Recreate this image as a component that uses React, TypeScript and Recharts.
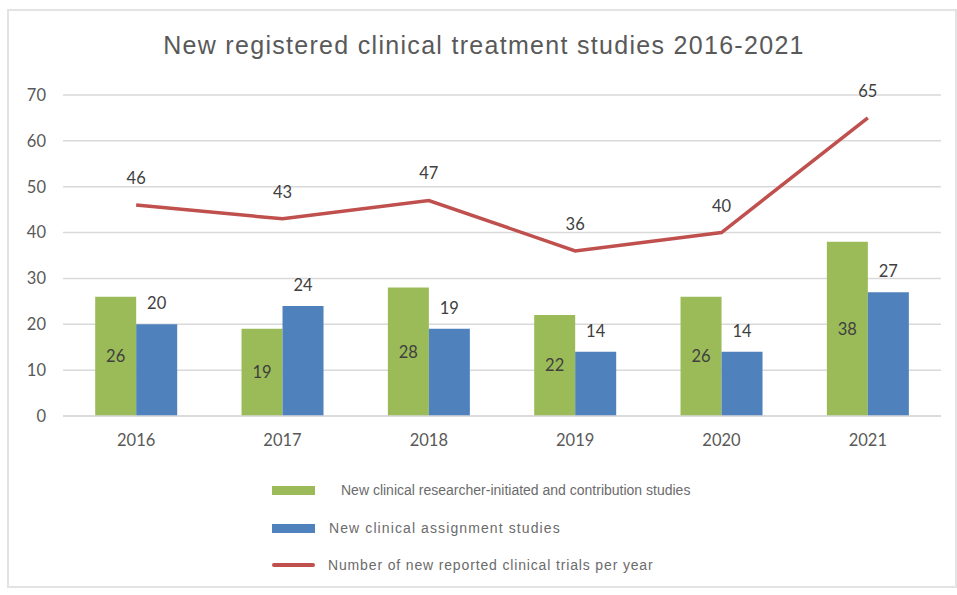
import React from "react";
import {
  ComposedChart,
  Bar,
  Line,
  XAxis,
  YAxis,
  CartesianGrid,
  LabelList,
} from "recharts";

const years = ["2016", "2017", "2018", "2019", "2020", "2021"];
const researcherStudies = [26, 19, 28, 22, 26, 38];
const assignmentStudies = [20, 24, 19, 14, 14, 27];
const reportedTrials = [46, 43, 47, 36, 40, 65];
const yTicks = [0, 10, 20, 30, 40, 50, 60, 70];

const seriesNames = {
  researcher: "New clinical researcher-initiated and contribution studies",
  assignment: "New clinical assignment studies",
  trials: "Number of new reported clinical trials per year",
};

const data = years.map((y, i) => ({
  year: y,
  researcher: researcherStudies[i],
  assignment: assignmentStudies[i],
  trials: reportedTrials[i],
}));

const GREEN = "#9bbb59";
const BLUE = "#4f81bd";
const RED = "#c0504d";
const TXT = "#404040";
const AXIS_TXT = "#595959";
const NUM_FONT = "Lato, 'Open Sans', sans-serif";

const LegendBlock = () => {
  const items = [
    { name: seriesNames.researcher, color: GREEN, type: "rect", textX: 341, ls: 0 },
    { name: seriesNames.assignment, color: BLUE, type: "rect", textX: 329, ls: 1.1 },
    { name: seriesNames.trials, color: RED, type: "line", textX: 328, ls: 0.85 },
  ];
  return (
    <div style={{ position: "absolute", left: 272, top: 482, width: 500, height: 110 }}>
      {items.map((it, i) => (
        <div
          key={i}
          style={{
            position: "absolute",
            left: 0,
            top: i * 37.5,
            height: 16,
            width: 500,
          }}
        >
          <div
            style={{
              position: "absolute",
              left: 0,
              top: it.type === "rect" ? 4 : 6,
              width: 43,
              height: it.type === "rect" ? 9 : 4,
              background: it.color,
              borderRadius: it.type === "line" ? 2 : 0,
            }}
          />
          <span
            style={{
              position: "absolute",
              left: it.textX - 272,
              top: 0,
              fontFamily: "'Liberation Sans', Arial, sans-serif",
              fontSize: 14,
              letterSpacing: it.ls,
              color: "#6b6b6b",
              whiteSpace: "nowrap",
              lineHeight: "16px",
            }}
          >
            {it.name}
          </span>
        </div>
      ))}
    </div>
  );
};

export default function App() {
  return (
    <div
      style={{
        position: "absolute",
        left: 0,
        top: 0,
        width: 957,
        height: 595,
        background: "#ffffff",
      }}
    >
      <div
        style={{
          position: "absolute",
          left: 7,
          top: 9,
          width: 946,
          height: 575,
          border: "2px solid #e3e3e3",
          boxSizing: "content-box",
        }}
      />
      <div
        style={{
          position: "absolute",
          left: 0,
          top: 30,
          width: 968,
          textAlign: "center",
          fontFamily: "'Liberation Sans', Arial, sans-serif",
          fontSize: 25,
          letterSpacing: 1.3,
          color: "#595959",
          lineHeight: "30px",
        }}
      >
        New registered clinical treatment studies 2016-2021
      </div>
      <div style={{ position: "absolute", left: 0, top: 0 }}>
        <ComposedChart
          width={957}
          height={595}
          data={data}
          margin={{ top: 95, right: 16, bottom: 149, left: 8 }}
          barGap={0}
          barCategoryGap="22%"
        >
          <CartesianGrid vertical={false} stroke="#d9d9d9" strokeWidth={1.5} />
          <XAxis
            dataKey="year"
            axisLine={{ stroke: "#d9d9d9", strokeWidth: 1.5 }}
            tickLine={false}
            height={30}
            tick={{ fill: AXIS_TXT, fontSize: 16.5, fontFamily: NUM_FONT }}
            tickMargin={12}
          />
          <YAxis
            domain={[0, 70]}
            ticks={yTicks}
            width={55}
            axisLine={false}
            tickLine={false}
            tick={{ fill: AXIS_TXT, fontSize: 16.5, fontFamily: NUM_FONT }}
            tickMargin={11}
          />
          <Bar
            dataKey="researcher"
            name={seriesNames.researcher}
            fill={GREEN}
            isAnimationActive={false}
          >
            <LabelList
              dataKey="researcher"
              position="center"
              fill={TXT}
              fontSize={16.5}
              fontFamily={NUM_FONT}
            />
          </Bar>
          <Bar
            dataKey="assignment"
            name={seriesNames.assignment}
            fill={BLUE}
            isAnimationActive={false}
          >
            <LabelList
              dataKey="assignment"
              position="top"
              offset={15}
              fill={TXT}
              fontSize={16.5}
              fontFamily={NUM_FONT}
            />
          </Bar>
          <Line
            dataKey="trials"
            name={seriesNames.trials}
            stroke={RED}
            strokeWidth={3.5}
            dot={false}
            activeDot={false}
            type="linear"
            isAnimationActive={false}
          >
            <LabelList
              dataKey="trials"
              position="top"
              offset={21}
              fill={TXT}
              fontSize={16.5}
              fontFamily={NUM_FONT}
            />
          </Line>
        </ComposedChart>
      </div>
      <LegendBlock />
    </div>
  );
}
